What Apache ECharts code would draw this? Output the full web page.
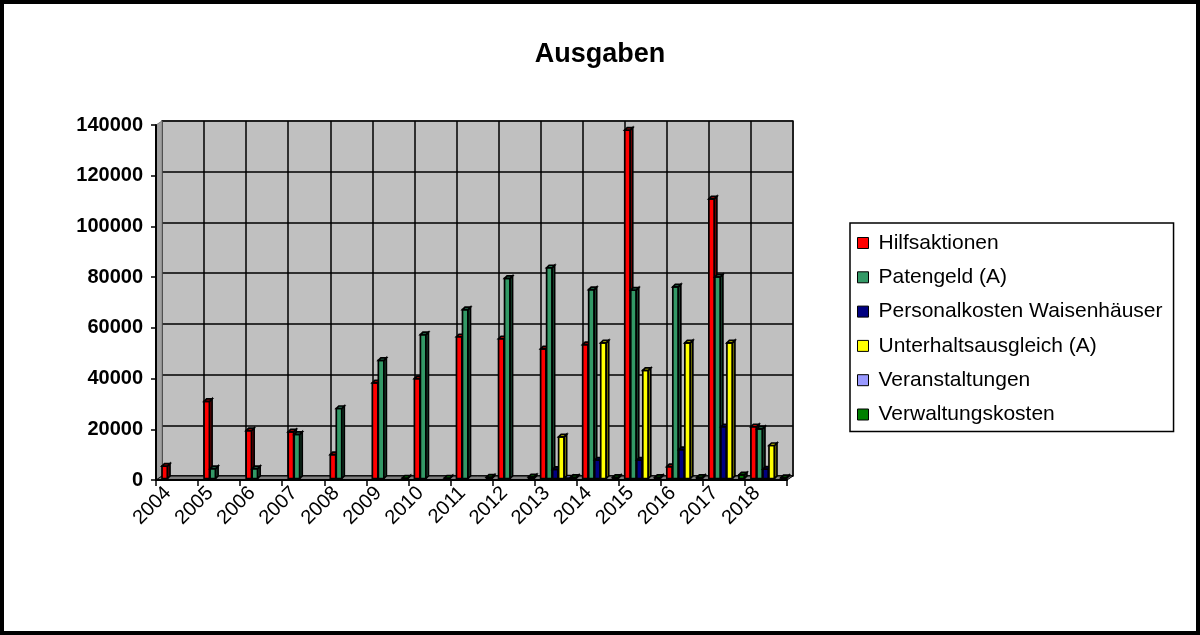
<!DOCTYPE html>
<html>
<head>
<meta charset="utf-8">
<script src="https://cdn.jsdelivr.net/npm/echarts@6/dist/echarts.min.js"></script>
<style>
  html, body { margin: 0; padding: 0; background: #fff; }
  #chart { width: 1200px; height: 635px; }
</style>
</head>
<body>
<div id="chart"></div>
<script>
// Ausgaben je Jahr und Kostenart
const years = ['2004','2005','2006','2007','2008','2009','2010','2011','2012','2013','2014','2015','2016','2017','2018'];
const hilfsaktionen   = [5500, 31000, 19500, 19000, 10000, 38300, 40000, 56500, 55700, 51700, 53400, 138000, 5300, 110900, 21000];
const patengeld       = [null, 4500, 4500, 18000, 28200, 47200, 57300, 67200, 79500, 83700, 75100, 74900, 76200, 80100, 20200];
const personalkosten  = [null, null, null, null, null, null, null, null, null, 4200, 7800, 7800, 12000, 21000, 4300];
const unterhalt       = [null, null, null, null, null, null, null, null, null, 17000, 54100, 43200, 54100, 54100, 13600];
const veranstaltungen = [null, null, null, null, null, null, null, null, null, 600, null, null, null, null, null];
const verwaltung      = [null, null, null, null, null, 300, 400, 1100, 1200, 1000, 1000, 1000, 1000, 2000, 900];
const yTicks = { min: 0, max: 140000, interval: 20000 };

const seriesDefs = [
  { name: 'Hilfsaktionen',                data: hilfsaktionen,   front: '#FF0000', side: '#800000', top: '#B00000' },
  { name: 'Patengeld (A)',                data: patengeld,       front: '#339966', side: '#1A4D33', top: '#267350' },
  { name: 'Personalkosten Waisenhäuser',  data: personalkosten,  front: '#000080', side: '#000040', top: '#000060' },
  { name: 'Unterhaltsausgleich (A)',      data: unterhalt,       front: '#FFFF00', side: '#808000', top: '#C0C000' },
  { name: 'Veranstaltungen',              data: veranstaltungen, front: '#9999FF', side: '#4D4D80', top: '#7373C0' },
  { name: 'Verwaltungskosten',            data: verwaltung,      front: '#008000', side: '#004000', top: '#006000' }
];

// front axis plane and back wall (shifted for the 3D depth)
const FRONT = { left: 156, right: 413, top: 125, bottom: 155 };
const DEPTH_X = 6, DEPTH_Y = 4;
const LABEL_SHIFT = 9;
const W = 1200, H = 635;
const fx0 = FRONT.left, fx1 = W - FRONT.right, fy0 = FRONT.top, fy1 = H - FRONT.bottom;

// one 3D column: front face, right side and top face
function columnRenderer(idx, def) {
  return function (params, api) {
    const v = api.value(1);
    if (v == null || isNaN(v)) return;
    const ci = api.value(0);
    const band = api.size([1, 0])[0];
    const base = api.coord([ci, 0]);
    const tip = api.coord([ci, v]);
    const step = band / 7;
    const x0 = base[0] - band / 2 + step * (idx + 1);
    const w = step - 0.5;
    const d = 2.5;
    const y0 = base[1] - 1.5;
    const y1 = Math.min(tip[1], y0 - 0.5);
    const stroke = { stroke: '#000', lineWidth: 1.7 };
    return {
      type: 'group',
      children: [
        { type: 'rect', shape: { x: x0, y: y1, width: w, height: y0 - y1 },
          style: Object.assign({ fill: def.front }, stroke) },
        { type: 'polygon', shape: { points: [[x0 + w, y1], [x0 + w + d, y1 - d], [x0 + w + d, y0 - d], [x0 + w, y0]] },
          style: Object.assign({ fill: def.side }, stroke) },
        { type: 'polygon', shape: { points: [[x0, y1], [x0 + d, y1 - d], [x0 + w + d, y1 - d], [x0 + w, y1]] },
          style: Object.assign({ fill: def.top }, stroke) }
      ]
    };
  };
}

const chart = echarts.init(document.getElementById('chart'), null, { renderer: 'canvas' });

const labelFont = 'Liberation Sans, Arial, sans-serif';

chart.setOption({
  animation: false,
  backgroundColor: '#fff',
  title: {
    text: 'Ausgaben',
    left: 'center',
    top: 36,
    textStyle: { fontFamily: labelFont, fontWeight: 'bold', fontSize: 27, color: '#000' }
  },
  legend: {
    orient: 'vertical',
    left: 850,
    top: 223,
    padding: [8, 11, 5, 7],
    itemGap: 10.3,
    itemWidth: 11,
    itemHeight: 11,
    icon: 'rect',
    backgroundColor: '#fff',
    borderColor: '#000',
    borderWidth: 1.5,
    borderRadius: 0,
    itemStyle: { borderColor: '#000', borderWidth: 1 },
    textStyle: { fontFamily: labelFont, fontSize: 21, color: '#000', lineHeight: 24, padding: [0, 0, 0, 5] },
    data: seriesDefs.map(s => s.name)
  },
  graphic: [
    // outer frame
    { type: 'rect', z: 100, shape: { x: 2, y: 2, width: W - 4, height: H - 4 },
      style: { fill: null, stroke: '#000', lineWidth: 4 } },
    // left wall
    { type: 'polygon', z: 1, shape: { points: [[fx0, fy1], [fx0, fy0], [fx0 + DEPTH_X, fy0 - DEPTH_Y], [fx0 + DEPTH_X, fy1 - DEPTH_Y]] },
      style: { fill: '#A0A0A0', stroke: '#808080', lineWidth: 1 } },
    // floor
    { type: 'polygon', z: 1, shape: { points: [[fx0, fy1], [fx1, fy1], [fx1 + DEPTH_X, fy1 - DEPTH_Y], [fx0 + DEPTH_X, fy1 - DEPTH_Y]] },
      style: { fill: '#808080', stroke: '#000', lineWidth: 1 } }
  ],
  grid: [
    { left: FRONT.left, right: FRONT.right, top: FRONT.top, bottom: FRONT.bottom, z: 2 },
    { left: FRONT.left + DEPTH_X, right: FRONT.right - DEPTH_X, top: FRONT.top - DEPTH_Y, bottom: FRONT.bottom + DEPTH_Y,
      show: true, backgroundColor: '#C0C0C0', borderColor: '#808080', borderWidth: 2, z: 0 },
    // carries only the year labels
    { left: FRONT.left - LABEL_SHIFT, right: FRONT.right + LABEL_SHIFT, top: FRONT.top, bottom: FRONT.bottom }
  ],
  xAxis: [
    { type: 'category', gridIndex: 0, data: years, boundaryGap: true, z: 5,
      axisLine: { show: true, lineStyle: { color: '#000', width: 2 } },
      axisTick: { show: true, length: 6, lineStyle: { color: '#000', width: 1.5 } },
      axisLabel: { show: false },
      splitLine: { show: false } },
    { type: 'category', gridIndex: 1, data: years, boundaryGap: true,
      axisLine: { show: false }, axisTick: { show: false }, axisLabel: { show: false },
      splitLine: { show: true, lineStyle: { color: '#000', width: 1.5 } } },
    { type: 'category', gridIndex: 2, data: years, boundaryGap: true,
      axisLine: { show: false }, axisTick: { show: false },
      axisLabel: { rotate: 45, margin: 10, fontFamily: labelFont, fontSize: 20, color: '#000' },
      splitLine: { show: false } }
  ],
  yAxis: [
    { type: 'value', gridIndex: 0, min: yTicks.min, max: yTicks.max, interval: yTicks.interval, z: 5,
      axisLine: { show: true, lineStyle: { color: '#000', width: 2 } },
      axisTick: { show: true, length: 5, lineStyle: { color: '#000', width: 1.5 } },
      axisLabel: { margin: 13, fontFamily: labelFont, fontWeight: 'bold', fontSize: 20, color: '#000',
                   formatter: v => String(v) },
      splitLine: { show: false } },
    { type: 'value', gridIndex: 1, min: yTicks.min, max: yTicks.max, interval: yTicks.interval,
      axisLine: { show: false }, axisTick: { show: false }, axisLabel: { show: false },
      splitLine: { show: true, lineStyle: { color: '#000', width: 1.5 } } },
    { type: 'value', gridIndex: 2, min: yTicks.min, max: yTicks.max, interval: yTicks.interval, show: false }
  ],
  series: seriesDefs.map((def, idx) => ({
    type: 'custom',
    name: def.name,
    xAxisIndex: 0,
    yAxisIndex: 0,
    z: 10,
    itemStyle: { color: def.front },
    encode: { x: 0, y: 1 },
    renderItem: columnRenderer(idx, def),
    data: def.data.map((v, i) => [i, v])
  }))
});
</script>
</body>
</html>
